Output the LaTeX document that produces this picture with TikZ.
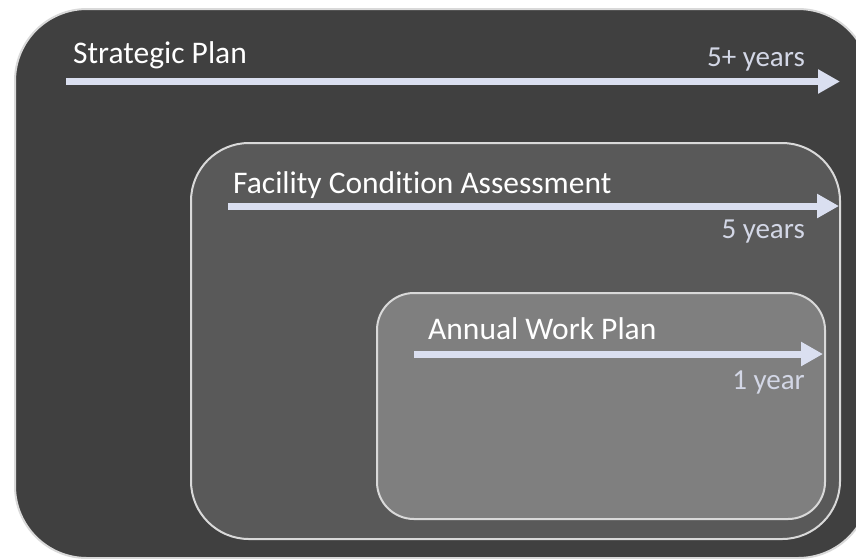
\documentclass[tikz,border=0pt]{standalone}
\usepackage{fontspec}
\setmainfont{Carlito}[Ligatures=NoCommon]
\usetikzlibrary{arrows.meta}
\definecolor{outerfill}{HTML}{404040}
\definecolor{midfill}{HTML}{595959}
\definecolor{innerfill}{HTML}{7F7F7F}
\definecolor{edgegray}{HTML}{D9D9D9}
\definecolor{arrowcol}{HTML}{DADFF0}
\definecolor{yearcol}{HTML}{D3D7E6}
\tikzset{
  panel/.style={draw=edgegray, line width=2pt},
  timeline/.style={draw=arrowcol, line width=7pt,
     -{Triangle[length=22pt 0 0,width=23pt 0 0]}},
  title/.style={anchor=base west, inner sep=0pt, text=white,
     font=\fontsize{31.5}{36}\selectfont},
  span/.style={anchor=base east, inner sep=0pt, text=yearcol,
     font=\fontsize{29}{34}\selectfont},
}
\begin{document}
\begin{tikzpicture}[x=1pt,y=-1pt]
\useasboundingbox (0,0) rectangle (856,558);
\fill[white] (0,0) rectangle (856,558);
\begin{scope}
\clip (0,0) rectangle (856,558);
\draw[panel, fill=outerfill, rounded corners=72pt] (15,9) rectangle (870,558);
\end{scope}
\draw[panel, fill=midfill, rounded corners=58pt] (191,143) rectangle (840,539);
\draw[panel, fill=innerfill, rounded corners=37pt] (377,293) rectangle (825,519);

\node[title] (sp) at (73,63) {Strategic Plan};
\node[span] (sy) at (805,66) {5+ years};
\coordinate (a1) at (66,81.5);
\coordinate (b1) at (840,81.5);
\draw[timeline] (a1) -- (b1);

\node[title] (fca) at (233,193) {Facility Condition Assessment};
\node[span] (fy) at (805,238) {5 years};
\coordinate (a2) at (228,206);
\coordinate (b2) at (839,206);
\draw[timeline] (a2) -- (b2);

\node[title] (awp) at (428,339) {Annual Work Plan};
\node[span] (ay) at (805,389) {1 year};
\coordinate (a3) at (414,354);
\coordinate (b3) at (823,354);
\draw[timeline] (a3) -- (b3);
\end{tikzpicture}
\end{document}
